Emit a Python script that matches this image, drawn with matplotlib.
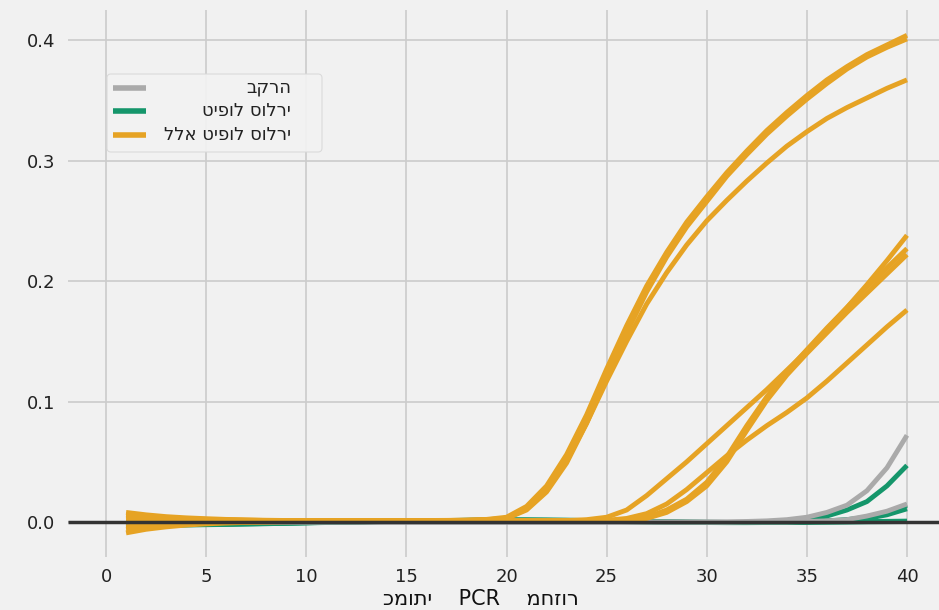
import matplotlib
matplotlib.use("Agg")
import matplotlib.pyplot as plt
from matplotlib.patches import FancyBboxPatch

plt.style.use('fivethirtyeight')
plt.rcParams['font.family'] = ['DejaVu Sans']

cycles = list(range(1, 41))

# no solar treatment (orange) - three early curves
orange_a = [0.008, 0.006, 0.0045, 0.0035, 0.0028, 0.0022, 0.0018, 0.0015, 0.0013, 0.0012,
            0.0011, 0.0011, 0.0011, 0.0012, 0.0012, 0.0013, 0.0014, 0.0016, 0.0022, 0.004,
            0.013, 0.03, 0.056, 0.089, 0.127, 0.163, 0.196, 0.224, 0.249, 0.27,
            0.29, 0.308, 0.325, 0.34, 0.354, 0.367, 0.378, 0.388, 0.396, 0.404]
orange_b = [0.005, 0.004, 0.003, 0.0025, 0.002, 0.0017, 0.0015, 0.0013, 0.0012, 0.0011,
            0.001, 0.001, 0.001, 0.001, 0.0011, 0.0012, 0.0012, 0.0014, 0.0018, 0.003,
            0.01, 0.025, 0.049, 0.082, 0.12, 0.157, 0.191, 0.22, 0.245, 0.266,
            0.287, 0.305, 0.322, 0.337, 0.351, 0.364, 0.376, 0.386, 0.394, 0.401]
orange_c = [-0.004, -0.002, -0.0005, 0.0003, 0.0008, 0.001, 0.001, 0.001, 0.001, 0.001,
            0.001, 0.001, 0.001, 0.001, 0.0011, 0.0012, 0.0013, 0.0015, 0.0019, 0.0032,
            0.011, 0.026, 0.051, 0.082, 0.117, 0.15, 0.181, 0.207, 0.23, 0.25,
            0.267, 0.283, 0.298, 0.312, 0.324, 0.335, 0.344, 0.352, 0.36, 0.367]
# late curves
orange_d = [0.003, 0.0025, 0.002, 0.0017, 0.0015, 0.0013, 0.0012, 0.0011, 0.001, 0.001,
            0.001, 0.001, 0.001, 0.001, 0.001, 0.001, 0.001, 0.001, 0.001, 0.001,
            0.001, 0.001, 0.0012, 0.002, 0.004, 0.01, 0.022, 0.036, 0.05, 0.065,
            0.08, 0.095, 0.11, 0.126, 0.142, 0.16, 0.178, 0.197, 0.217, 0.238]
orange_e = [-0.009, -0.006, -0.004, -0.0025, -0.0015, -0.0008, -0.0003, 0.0, 0.0003, 0.0005,
            0.0006, 0.0007, 0.0008, 0.0008, 0.0009, 0.0009, 0.001, 0.001, 0.001, 0.001,
            0.001, 0.001, 0.001, 0.001, 0.001, 0.002, 0.004, 0.01, 0.019, 0.033,
            0.054, 0.08, 0.104, 0.125, 0.143, 0.161, 0.178, 0.195, 0.211, 0.227]
orange_f = [0.006, 0.0045, 0.0035, 0.0028, 0.0022, 0.0018, 0.0015, 0.0013, 0.0012, 0.0011,
            0.001, 0.001, 0.001, 0.001, 0.001, 0.001, 0.001, 0.001, 0.001, 0.001,
            0.001, 0.001, 0.001, 0.001, 0.001, 0.001, 0.003, 0.008, 0.017, 0.03,
            0.05, 0.076, 0.101, 0.122, 0.14, 0.157, 0.174, 0.19, 0.206, 0.222]
orange_g = [-0.006, -0.004, -0.0025, -0.0015, -0.0008, -0.0003, 0.0, 0.0003, 0.0005, 0.0006,
            0.0007, 0.0008, 0.0008, 0.0009, 0.0009, 0.001, 0.001, 0.001, 0.001, 0.001,
            0.001, 0.001, 0.001, 0.001, 0.0015, 0.003, 0.007, 0.015, 0.027, 0.041,
            0.055, 0.068, 0.08, 0.091, 0.103, 0.117, 0.132, 0.147, 0.162, 0.176]

# control (gray)
gray_a = [0.0, 0.0, 0.0, 0.0, 0.0, 0.0, 0.0, 0.0, 0.0, 0.0,
          0.0, 0.0, 0.0, 0.0, 0.0, 0.0, 0.0, 0.0, 0.0, 0.0,
          0.0, 0.0, 0.0, 0.0, 0.0, 0.0, 0.0, 0.0, 0.0, 0.0,
          0.0, 0.0005, 0.001, 0.002, 0.004, 0.008, 0.014, 0.026, 0.045, 0.072]
gray_b = [0.0, 0.0, 0.0, 0.0, 0.0, 0.0, 0.0, 0.0, 0.0, 0.0,
          0.0, 0.0, 0.0, 0.0, 0.0, 0.0, 0.0, 0.0, 0.0, 0.0,
          0.0, 0.0, 0.0, 0.0, 0.0, 0.0, 0.0, 0.0, 0.0, 0.0,
          0.0, 0.0, 0.0, 0.0, 0.0005, 0.001, 0.002, 0.005, 0.009, 0.015]

# solar treatment (green)
green_a = [-0.003, -0.003, -0.0028, -0.0025, -0.0022, -0.002, -0.0017, -0.0014, -0.001, -0.0007,
           -0.0004, -0.0001, 0.0002, 0.0005, 0.0008, 0.001, 0.0012, 0.0014, 0.0016, 0.0017,
           0.0017, 0.0016, 0.0015, 0.0013, 0.001, 0.0008, 0.0005, 0.0002, 0.0, -0.0002,
           -0.0003, -0.0003, -0.0002, 0.0002, 0.002, 0.005, 0.01, 0.017, 0.03, 0.047]
green_b = [-0.002, -0.002, -0.002, -0.0018, -0.0016, -0.0014, -0.0012, -0.001, -0.0008, -0.0005,
           -0.0003, 0.0, 0.0003, 0.0006, 0.0009, 0.0011, 0.0013, 0.0015, 0.0017, 0.0018,
           0.0018, 0.0017, 0.0015, 0.0013, 0.001, 0.0007, 0.0004, 0.0001, -0.0001, -0.0002,
           -0.0003, -0.0003, -0.0002, 0.0, 0.0003, 0.001, 0.002, 0.004, 0.008, 0.014]
green_c = [-0.001, -0.0012, -0.0012, -0.0012, -0.0011, -0.001, -0.0009, -0.0007, -0.0005, -0.0003,
           -0.0001, 0.0001, 0.0003, 0.0005, 0.0007, 0.0009, 0.0011, 0.0012, 0.0013, 0.0014,
           0.0014, 0.0013, 0.0012, 0.001, 0.0008, 0.0005, 0.0003, 0.0, -0.0002, -0.0003,
           -0.0004, -0.0004, -0.0003, -0.0001, 0.0002, 0.0008, 0.0016, 0.003, 0.006, 0.011]
green_d = [-0.002, -0.0022, -0.0022, -0.0021, -0.002, -0.0018, -0.0015, -0.0012, -0.0009, -0.0006,
           -0.0003, 0.0, 0.0003, 0.0006, 0.0009, 0.0011, 0.0013, 0.0014, 0.0015, 0.0015,
           0.0015, 0.0014, 0.0012, 0.001, 0.0007, 0.0004, 0.0001, -0.0001, -0.0003, -0.0004,
           -0.0005, -0.0005, -0.0004, -0.0003, -0.0002, 0.0, 0.0002, 0.0004, 0.0006, 0.0008]
green_e = [-0.0015, -0.0016, -0.0016, -0.0015, -0.0014, -0.0012, -0.001, -0.0008, -0.0006, -0.0004,
           -0.0002, 0.0, 0.0002, 0.0004, 0.0006, 0.0008, 0.001, 0.0011, 0.0012, 0.0012,
           0.0012, 0.0011, 0.001, 0.0008, 0.0006, 0.0003, 0.0001, -0.0001, -0.0003, -0.0004,
           -0.0004, -0.0004, -0.0003, -0.0002, -0.0001, 0.0, 0.0001, 0.0002, 0.0003, 0.0004]

orange_series = [orange_a, orange_b, orange_c, orange_d, orange_e, orange_f, orange_g]
gray_series = [gray_a, gray_b]
green_series = [green_a, green_b, green_c, green_d, green_e]

labels = ['בקרה', 'טיפול סולרי', 'ללא טיפול סולרי']
xlabel = 'כמותי    PCR    מחזור'
xticks = [0, 5, 10, 15, 20, 25, 30, 35, 40]
yticks = [0.0, 0.1, 0.2, 0.3, 0.4]

c_orange = '#e6a324'
c_green = '#15966b'
c_gray = '#aaaaaa'
bg = '#f1f1f1'

fig = plt.figure(figsize=(9.39, 6.10), dpi=100, facecolor=bg)
ax = fig.add_axes([68 / 939, 1 - 557 / 610, (939 - 68) / 939, (557 - 10) / 610])
ax.set_facecolor(bg)

for s in green_series:
    ax.plot(cycles, s, color=c_green, lw=3.5, solid_capstyle='butt')
for s in gray_series:
    ax.plot(cycles, s, color=c_gray, lw=3.5, solid_capstyle='butt')
for s in orange_series:
    ax.plot(cycles, s, color=c_orange, lw=3.5, solid_capstyle='butt')
ax.axhline(0, color='#333333', lw=2.5, zorder=5)

ax.set_xlim(-1.9, 41.6)
ax.set_ylim(-0.029, 0.425)
ax.set_xticks(xticks)
ax.set_yticks(yticks)
ax.set_yticklabels(['%.1f' % v for v in yticks])
ax.tick_params(axis='both', labelsize=13, colors='#222222', length=0)
ax.tick_params(axis='x', pad=8)
ax.tick_params(axis='y', pad=9)
ax.grid(True, color='#cbcbcb', lw=1.2)
for sp in ax.spines.values():
    sp.set_visible(False)

ax.set_xlabel(xlabel, fontsize=15, color='#111111')
ax.xaxis.set_label_coords((481 - 68) / (939 - 68), (557 - 589) / 547)

# legend drawn by hand so the Hebrew text can be right aligned
box = FancyBboxPatch((107, 610 - 152), 215, 78, boxstyle='round,pad=0,rounding_size=4',
                     transform=None, facecolor='#f3f3f3', edgecolor='#d8d8d8', lw=0.8,
                     alpha=0.9, zorder=6)
fig.patches.append(box)
rows_y = [88, 111, 135]
for lab, col, y in zip(labels, [c_gray, c_green, c_orange], rows_y):
    fy = 1 - y / 610
    fig.lines.append(plt.Line2D([113 / 939, 146 / 939], [fy, fy], color=col, lw=4,
                                transform=fig.transFigure, zorder=7))
    fig.text(291 / 939, fy, lab, ha='right', va='center', fontsize=13, color='#222222',
             zorder=7)

fig.savefig('out.png', dpi=100, facecolor=bg)
